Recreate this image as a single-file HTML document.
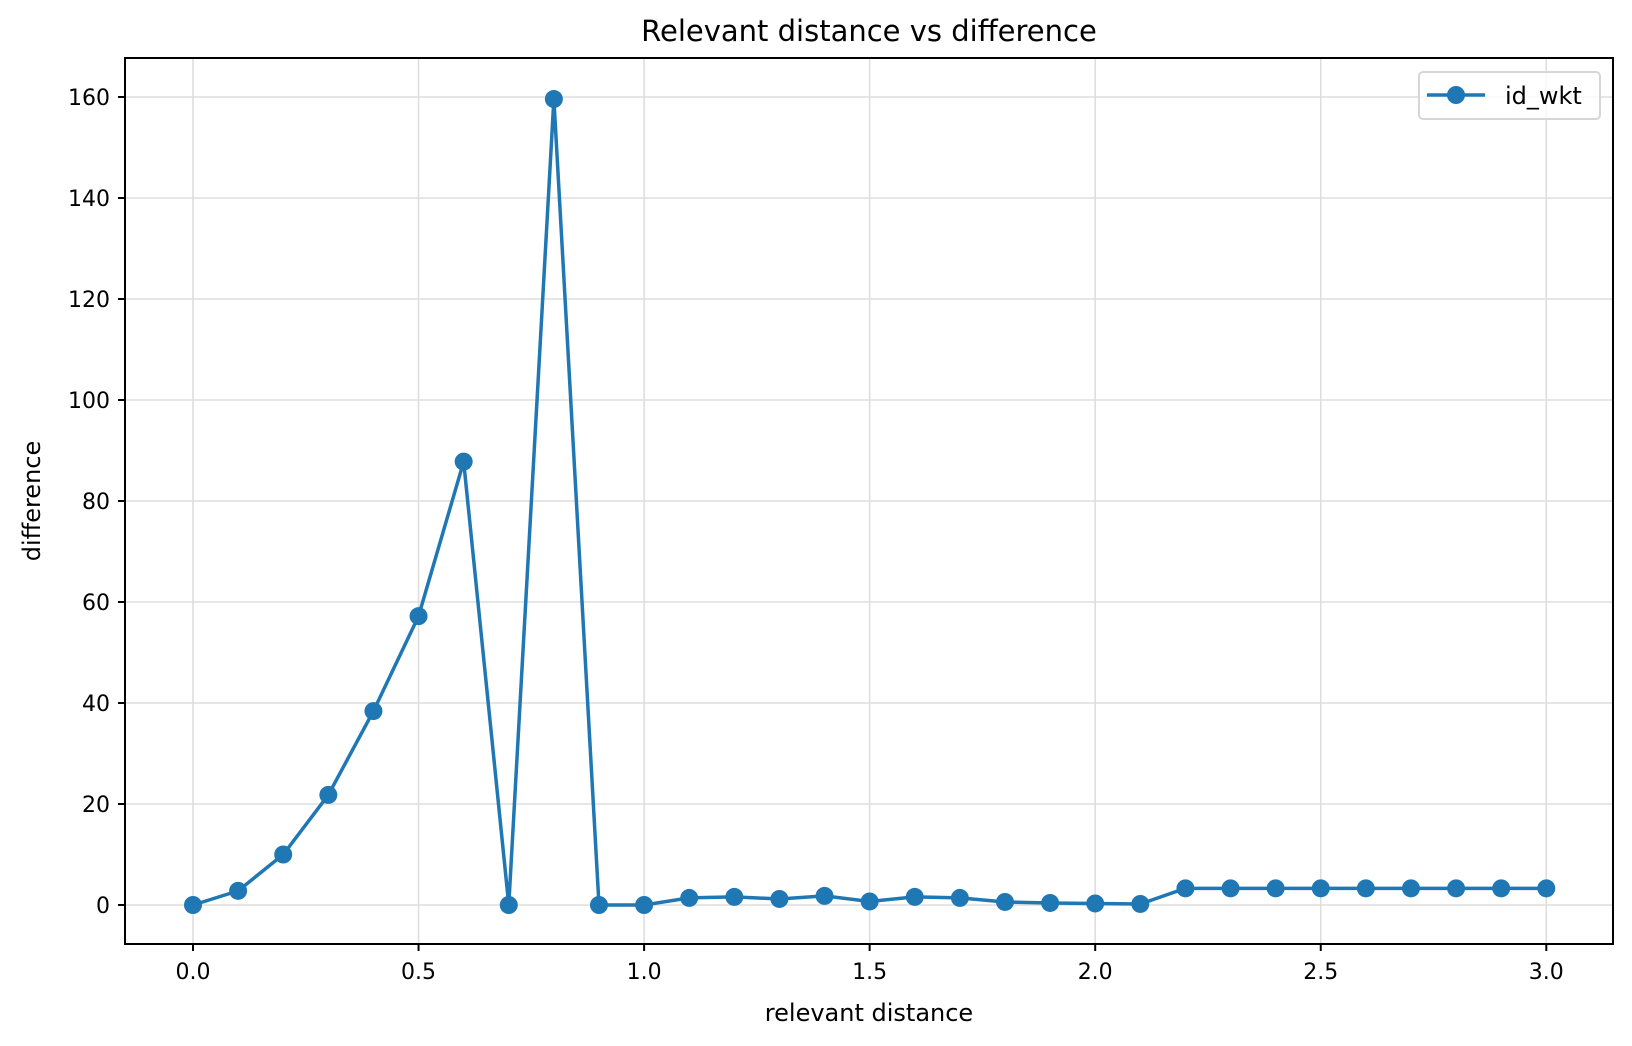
<!DOCTYPE html>
<html><head><meta charset="utf-8"><style>body{margin:0;background:#fff}svg{display:block}</style></head>
<body>
<svg id="s" width="1632" height="1046" xmlns="http://www.w3.org/2000/svg" font-family="DejaVu Sans, Liberation Sans, sans-serif">
<rect width="1632" height="1046" fill="#fff"/>
<g id="grid" stroke="#dedede" stroke-width="1.6"></g>
<g id="ticks"></g>
<polyline id="line" fill="none" stroke="#1f77b4" stroke-width="3.5"/>
<g id="marks" fill="#1f77b4"></g>
<rect x="125" y="58" width="1488" height="886" fill="none" stroke="#000" stroke-width="2"/>
<text x="869" y="41" font-size="29" text-anchor="middle">Relevant distance vs difference</text>
<text x="869" y="1021" font-size="24" text-anchor="middle">relevant distance</text>
<text transform="translate(40,501) rotate(-90)" font-size="24" text-anchor="middle">difference</text>
<rect x="1419" y="72" width="181" height="47" rx="4" fill="#fff" fill-opacity="0.8" stroke="#d6d6d6" stroke-width="2"/>
<line x1="1427" y1="95" x2="1485" y2="95" stroke="#1f77b4" stroke-width="3.5"/>
<circle cx="1456" cy="95" r="9" fill="#1f77b4"/>
<text x="1505" y="104" font-size="24">id_wkt</text>
</svg>
<script>
const X=v=>193+v*451.1, Y=v=>905-v*5.05;
const ns="http://www.w3.org/2000/svg";
function el(p,t,a,txt){const e=document.createElementNS(ns,t);for(const k in a)e.setAttribute(k,a[k]);if(txt)e.textContent=txt;document.getElementById(p).appendChild(e);}
for(let i=0;i<=6;i++){const v=i*0.5,x=X(v);el('grid','line',{x1:x,y1:58,x2:x,y2:944});
el('ticks','line',{x1:x,y1:944,x2:x,y2:951,stroke:'#000','stroke-width':2});
el('ticks','text',{x:x,y:979,'font-size':22,'text-anchor':'middle'},v.toFixed(1));}
for(let i=0;i<=8;i++){const v=i*20,y=Y(v);el('grid','line',{x1:125,y1:y,x2:1613,y2:y});
el('ticks','line',{x1:118,y1:y,x2:125,y2:y,stroke:'#000','stroke-width':2});
el('ticks','text',{x:110,y:y+8,'font-size':22,'text-anchor':'end'},String(v));}
const d=[0,2.8,10,21.8,38.4,57.2,87.8,0,159.6,0,0,1.4,1.6,1.2,1.8,0.7,1.6,1.4,0.6,0.4,0.3,0.2,3.3,3.3,3.3,3.3,3.3,3.3,3.3,3.3,3.3];
let pts=[];d.forEach((v,i)=>{const x=X(i*0.1),y=Y(v);pts.push(x+','+y);el('marks','circle',{cx:x,cy:y,r:9});});
document.getElementById('line').setAttribute('points',pts.join(' '));
</script>
</body></html>
